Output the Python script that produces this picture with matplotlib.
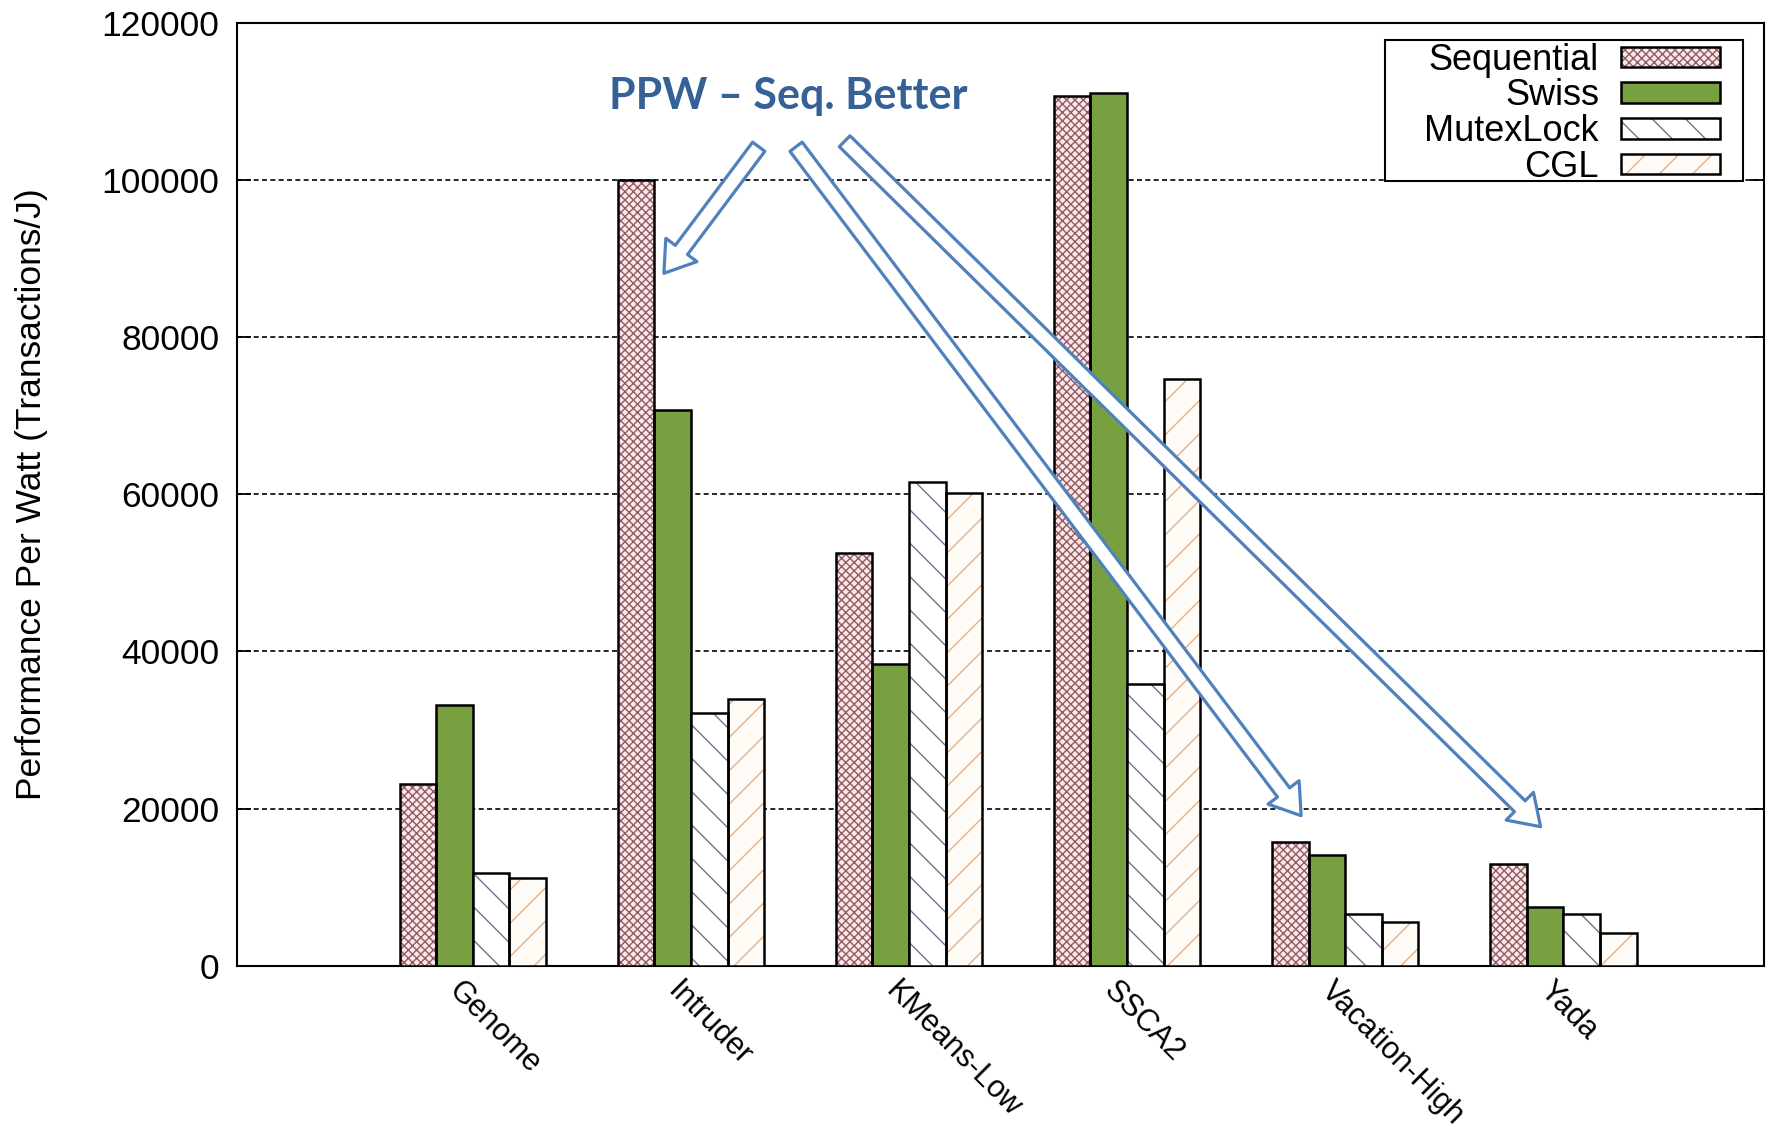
import numpy as np
import matplotlib
matplotlib.use("Agg")
import matplotlib.pyplot as plt
from matplotlib.patches import Rectangle

plt.rcParams["font.family"] = ["Liberation Sans", "DejaVu Sans"]
plt.rcParams["hatch.linewidth"] = 1.0

# Data
benchmarks = ["Genome", "Intruder", "KMeans-Low", "SSCA2", "Vacation-High", "Yada"]
series = ["Sequential", "Swiss", "MutexLock", "CGL"]
sequential = [23100, 100000, 52500, 110700, 15800, 12900]
swiss = [33200, 70700, 38400, 111100, 14100, 7500]
mutexlock = [11800, 32200, 61600, 35900, 6600, 6600]
cgl = [11200, 34000, 60200, 74700, 5600, 4200]
values = [sequential, swiss, mutexlock, cgl]

# style per series: (face, hatch colour, hatch)
styles = [
    ("#fde6e6", "#8e5c66", "xxxx"),
    ("#78a040", None, None),
    ("#ffffff", "#74748c", "\\"),
    ("#fffbf6", "#e3b088", "/"),
]

fig = plt.figure(figsize=(17.71, 11.27), dpi=100)
ax = fig.add_axes([0.134, 0.143, 0.862, 0.837])

x = np.arange(len(benchmarks))
w = 0.168
handles = []
for i, (name, vals) in enumerate(zip(series, values)):
    face, hcol, hatch = styles[i]
    pos = x + (i - 1.5) * w
    if hatch is None:
        b = ax.bar(pos, vals, w, color=face, edgecolor="black", linewidth=1.8, zorder=3)
        handles.append(b[0])
    else:
        b1 = ax.bar(pos, vals, w, color=face, edgecolor=hcol, hatch=hatch, linewidth=0, zorder=3)
        b2 = ax.bar(pos, vals, w, fill=False, edgecolor="black", linewidth=1.8, zorder=4)
        handles.append((b1[0], b2[0]))

ax.set_xlim(-1.08, 5.92)
ax.set_ylim(0, 120000)
ax.set_yticks(np.arange(0, 120001, 20000))
ax.set_xticks(x - 0.04)
ax.set_xticklabels(benchmarks, rotation=-45, ha="left", va="top",
                   rotation_mode="anchor", fontsize=22)
ax.tick_params(axis="x", length=0, pad=7)
ax.tick_params(axis="y", direction="in", length=10, width=1.3, labelsize=25.5,
               pad=13, right=True)
ax.set_ylabel("Performance Per Watt (Transactions/J)", fontsize=25.5)
ax.yaxis.set_label_coords(-0.124, 0.5)

ax.yaxis.grid(True, color="black", linestyle=(0, (3, 2)), linewidth=1.2)
ax.set_axisbelow(True)
for s in ax.spines.values():
    s.set_linewidth(1.5)

# legend: gnuplot-style box with wider left padding
ax.add_patch(Rectangle((0.7515, 0.8323), 0.2345, 0.1497, transform=ax.transAxes,
                       facecolor="white", edgecolor="black", linewidth=1.5, zorder=7))
leg = ax.legend(handles, series, loc="upper right", bbox_to_anchor=(0.9712, 0.9786),
                borderaxespad=0, markerfirst=False, fontsize=26, handlelength=2.75,
                handleheight=0.5, labelspacing=0.02, handletextpad=0.6,
                borderpad=0, frameon=False)
leg.set_zorder(8)

# annotation
blue = "#4f81bd"
ax.text(1.446, 110600, "PPW \u2013 Seq. Better", fontsize=31, fontweight="bold",
        family=["Lato", "DejaVu Sans"], color="#366196", ha="center", va="center", zorder=6)
arrow = dict(width=11, headwidth=28, headlength=21, facecolor="white",
             edgecolor=blue, linewidth=2.3, shrink=0)
ax.annotate("", xy=(0.876, 88100), xytext=(1.311, 104200), arrowprops=arrow, zorder=6)
ax.annotate("", xy=(3.798, 19100), xytext=(1.482, 104200), arrowprops=arrow, zorder=6)
ax.annotate("", xy=(4.896, 17700), xytext=(1.705, 104900), arrowprops=arrow, zorder=6)

fig.savefig("out.png", dpi=100)
